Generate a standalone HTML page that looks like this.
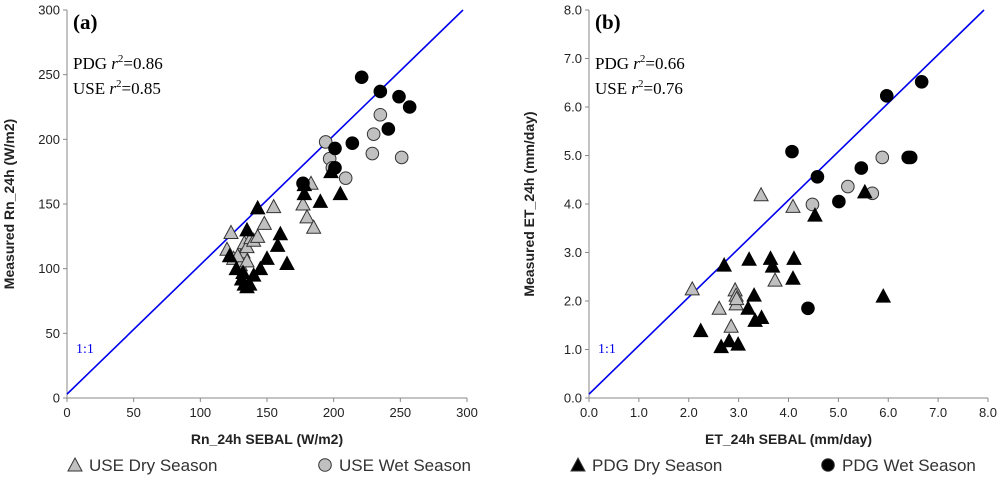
<!DOCTYPE html>
<html><head><meta charset="utf-8"><style>
body{margin:0;background:#fff;}
svg{display:block;font-family:"Liberation Sans",sans-serif;}
</style></head><body>
<svg id="c" width="1000" height="496"></svg>
<script>
// Panel (a) data
const aUseDryX=[120,123,125,130,132,133,135,138,140,143,148,155,177,180,183,185,128,135];
const aUseDryY=[115,128,108,103,113,120,117,124,122,125,135,148,150,140,166,132,110,106];
const aUseWetX=[194,235,230,197,229,209,251,199];
const aUseWetY=[198,219,204,185,189,170,186,178];
const aPdgDryX=[143,135,122,127,131,133,135,137,140,145,150,158,160,165,178,178,198,190,205,132];
const aPdgDryY=[147,130,110,100,92,88,86,88,95,100,108,118,127,104,158,165,175,152,158,97];
const aPdgWetX=[221,235,249,257,241,214,201,201,177];
const aPdgWetY=[248,237,233,225,208,197,193,178,166];
const aTicks=[0,50,100,150,200,250,300];
// Panel (b) data
const bUseDryX=[3.45,4.09,2.07,2.93,2.95,2.95,2.61,3.73,2.85,2.96];
const bUseDryY=[4.19,3.95,2.25,2.23,2.12,1.94,1.85,2.43,1.48,2.05];
const bUseWetX=[5.88,5.19,5.68,4.48];
const bUseWetY=[4.96,4.36,4.22,3.99];
const bPdgDryX=[2.71,3.21,3.64,3.68,4.11,4.09,4.53,5.53,5.90,3.31,3.19,3.46,3.33,2.24,2.81,2.99,2.65];
const bPdgDryY=[2.74,2.86,2.88,2.72,2.88,2.47,3.77,4.25,2.10,2.12,1.85,1.66,1.60,1.39,1.18,1.11,1.06];
const bPdgWetX=[6.67,5.97,4.07,4.58,5.46,6.40,6.45,5.01,4.39];
const bPdgWetY=[6.52,6.23,5.08,4.56,4.74,4.96,4.96,4.05,1.85];
const bTicks=[0,1,2,3,4,5,6,7,8];

const NS="http://www.w3.org/2000/svg";
const svg=document.getElementById('c');
function mk(tag,attrs,parent){const e=document.createElementNS(NS,tag);for(const k in attrs)e.setAttribute(k,attrs[k]);(parent||svg).appendChild(e);return e;}

function panel(cfg){
  const g=mk('g',{});
  
  
  const L=cfg.x0,R=cfg.x1,T=10,B=398;
  const sx=v=>L+(v-cfg.min)/(cfg.max-cfg.min)*(R-L);
  const sy=v=>B-(v-cfg.min)/(cfg.max-cfg.min)*(B-T);
  const ax=mk('path',{d:`M${L},${T}V${B}H${R}`,stroke:'#888',fill:'none','stroke-width':1},g);
  
  
  cfg.ticks.forEach(t=>{
    mk('line',{x1:sx(t),x2:sx(t),y1:B,y2:B+4,stroke:'#888'},g);
    mk('line',{x1:L-4,x2:L,y1:sy(t),y2:sy(t),stroke:'#888'},g);
    const lx=mk('text',{x:sx(t),y:B+19,'text-anchor':'middle','font-size':13,fill:'#222'},g);
    lx.textContent=cfg.fmt(t);
    
    
    const ly=mk('text',{x:L-7,y:sy(t)+4.5,'text-anchor':'end','font-size':13,fill:'#222'},g);
    ly.textContent=cfg.fmt(t);
    
    
  });
  const d=mk('line',{x1:sx(cfg.min),y1:sy(cfg.min+cfg.off),x2:sx(cfg.max-cfg.off),y2:sy(cfg.max),stroke:'#0000ee','stroke-width':1.6},g);
  
  
  const ol=mk('text',{x:L+9,y:B-45,'font-size':14,fill:'#0000ee','font-family':'Liberation Serif,serif'},g);
  ol.textContent='1:1';
  
  
  const tri=(xs,ys,fill,name)=>xs.forEach((v,i)=>{
    const x=sx(v),y=sy(ys[i]);
    const p=mk('path',{d:`M${x},${y-7}L${x+7},${y+6}L${x-7},${y+6}Z`,fill:fill,stroke:fill=='#000'?'#000':'#333','stroke-width':1},g);
    
    
  });
  const cir=(xs,ys,fill,name)=>xs.forEach((v,i)=>{
    const c=mk('circle',{cx:sx(v),cy:sy(ys[i]),r:6.3,fill:fill,stroke:fill=='#000'?'#000':'#333','stroke-width':1},g);
    
    
  });
  tri(cfg.ud[0],cfg.ud[1],'#c0c0c0','use-dry-point');
  cir(cfg.uw[0],cfg.uw[1],'#c0c0c0','use-wet-point');
  tri(cfg.pd[0],cfg.pd[1],'#000','pdg-dry-point');
  cir(cfg.pw[0],cfg.pw[1],'#000','pdg-wet-point');
  const pl=mk('text',{x:L+6,y:T+19,'font-size':21,'font-weight':'bold','font-family':'Liberation Serif,serif'},g);
  pl.textContent=cfg.label;
  
  
  [['PDG',cfg.r1,48],['USE',cfg.r2,73]].forEach(r=>{
    const t=mk('text',{x:L+6,y:T+r[2]+11,'font-size':17,'font-family':'Liberation Serif,serif'},g);
    t.innerHTML=r[0]+' <tspan font-style="italic">r</tspan><tspan dy="-7" font-size="11">2</tspan><tspan dy="7">='+r[1]+'</tspan>';
    
    
  });
  const xt=mk('text',{x:(L+R)/2,y:444,'text-anchor':'middle','font-size':14,'font-weight':'bold',fill:'#222'},g);
  xt.textContent=cfg.xt;
  
  
  const yt=mk('text',{x:0,y:0,'text-anchor':'middle','font-size':14,'font-weight':'bold',fill:'#222',transform:`translate(${cfg.ytx},${(T+B)/2}) rotate(-90)`},g);
  yt.textContent=cfg.yt;
  
  
}
panel({name:'panel-a',x0:67,x1:467,min:0,max:300,off:3,ticks:aTicks,fmt:t=>String(t),label:'(a)',r1:'0.86',r2:'0.85',
  ud:[aUseDryX,aUseDryY],uw:[aUseWetX,aUseWetY],pd:[aPdgDryX,aPdgDryY],pw:[aPdgWetX,aPdgWetY],
  xt:'Rn_24h SEBAL (W/m2)',yt:'Measured Rn_24h  (W/m2)',ytx:14});
panel({name:'panel-b',x0:589,x1:988,min:0,max:8,off:0.08,ticks:bTicks,fmt:t=>t.toFixed(1),label:'(b)',r1:'0.66',r2:'0.76',
  ud:[bUseDryX,bUseDryY],uw:[bUseWetX,bUseWetY],pd:[bPdgDryX,bPdgDryY],pw:[bPdgWetX,bPdgWetY],
  xt:'ET_24h SEBAL (mm/day)',yt:'Measured ET_24h  (mm/day)',ytx:534});
// legend
const lg=mk('g',{});


const items=[['tri','#c0c0c0','USE Dry Season',75],['cir','#c0c0c0','USE Wet Season',325],['tri','#000','PDG Dry Season',578],['cir','#000','PDG Wet Season',828]];
items.forEach(it=>{
  const x=it[3],y=465;
  const sym=it[0]=='tri'?mk('path',{d:`M${x},${y-7}L${x+7},${y+6}L${x-7},${y+6}Z`,fill:it[1],stroke:'#333'},lg):mk('circle',{cx:x,cy:y,r:6.3,fill:it[1],stroke:'#333'},lg);
  
  
  const t=mk('text',{x:x+14,y:y+6,'font-size':17,fill:'#333'},lg);
  t.textContent=it[2];
  
  
});
</script>
</body></html>
